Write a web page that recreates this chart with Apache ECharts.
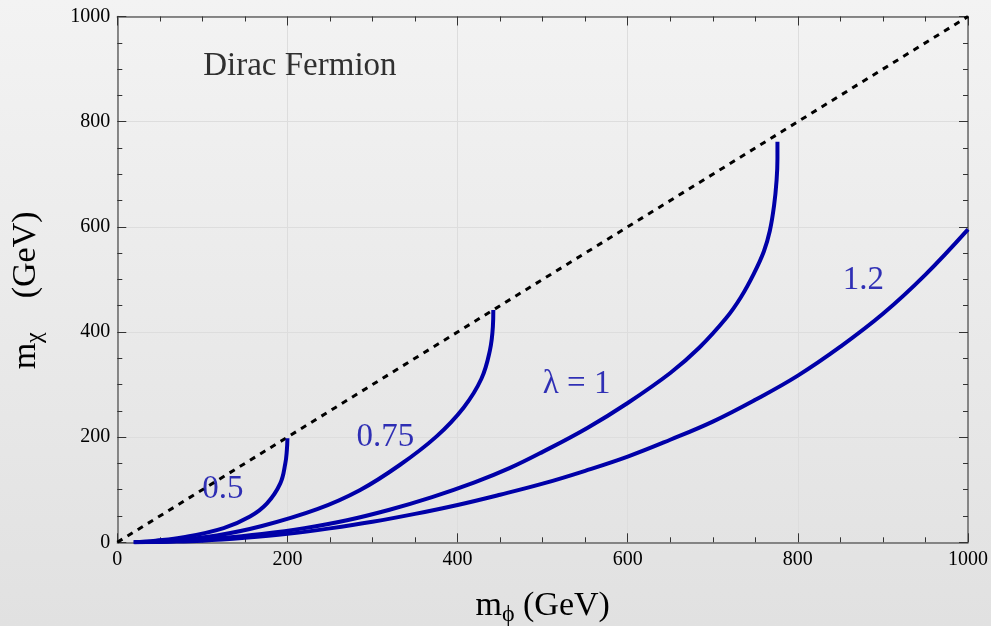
<!DOCTYPE html>
<html>
<head>
<meta charset="utf-8">
<script src="https://cdn.jsdelivr.net/npm/echarts@6/dist/echarts.min.js"></script>
<style>
html,body{margin:0;padding:0;background:#ebebeb;overflow:hidden;}
#c{width:991px;height:626px;}
</style>
</head>
<body>
<div id="c"></div>
<script>
// ---- data (m_phi, m_chi) in GeV ----
const diagonal = [[0,0],[1000,1000]];
const curve05 = [[19,0],[45,3],[78,9.5],[125,27],[156,49],[176,74],[191.6,112],[197.5,150],[199.3,175],[200,198]];
const curve075 = [[20,0],[70,4],[117,13],[170,31],[235,63],[285,99],[332,147],[375,201],[407,256],[428,311],[438,365],[441.5,410],[442,442]];
const curve1 = [[20,0],[70,2.5],[120,8],[170,16],[220,27],[270,42],[320,62],[370,86],[420,114],[461,141],[500,172],[552,217],[600,265],[650,322],[684,370],[716,427],[733,466],[748,510],[760,553],[767,592],[772,640],[775,689],[776,730],[776,762]];
const curve12 = [[20,0],[60,1],[100,3],[150,8.5],[200,16],[250,26.5],[300,39],[350,54],[400,71],[450,90.5],[500,111.5],[550,136],[600,163],[650,195],[700,229.5],[750,271],[800,317],[850,372],[900,434.5],[950,509],[1000,595]];
const curveLabels = ['0.5','0.75','λ = 1','1.2'];
const curveLabelPos = [[124,101],[315,200],[540,301],[877,499]];
const panelTitle = 'Dirac Fermion';
const panelTitlePos = [101,905];
const axisMin = 0, axisMax = 1000, axisStep = 200;

const SERIF = '"Liberation Serif","DejaVu Serif",serif';
const BLUE = '#0000a8';

function axisCommon(show){
  return {
    type:'value', min:axisMin, max:axisMax, interval:axisStep,
    axisLine:{show:true, onZero:false, lineStyle:{color:'#666', width:1.5}},
    axisTick:{show:true, inside:true, length:9, lineStyle:{color:'#333', width:1}},
    minorTick:{show:true, splitNumber:4, length:5, lineStyle:{color:'#333', width:1}},
    splitLine:{show:show, lineStyle:{color:'#dddddd', width:1}},
    axisLabel:{show:show, fontFamily:SERIF, fontSize:20, color:'#000', margin:7, formatter:v=>String(v)}
  };
}

const titleRich = {
  a:{fontFamily:SERIF, fontSize:34, color:'#000', lineHeight:40, verticalAlign:'middle'},
  s:{fontFamily:SERIF, fontSize:24, color:'#000', lineHeight:20, verticalAlign:'bottom'}
};

const chart = echarts.init(document.getElementById('c'), null, {renderer:'canvas'});
const option = {
  backgroundColor: new echarts.graphic.LinearGradient(0,0,0,1,[{offset:0,color:'#f3f3f3'},{offset:1,color:'#e1e1e1'}]),
  animation:false,
  grid:{left:117.3, right:23, top:16.5, bottom:83.7, containLabel:false, outerBoundsMode:'none'},
  xAxis:[
    Object.assign(axisCommon(true), {position:'bottom', name:'{a|m}{s|ϕ}{a| (GeV)}', nameLocation:'middle', nameGap:44,
      nameTextStyle:{rich:titleRich}}),
    Object.assign(axisCommon(false), {position:'top'})
  ],
  yAxis:[
    Object.assign(axisCommon(true), {position:'left', name:'{a|m}{s|χ}{a|    (GeV)}', nameLocation:'middle', nameGap:71, nameRotate:90,
      nameTextStyle:{rich:titleRich, padding:[0,22,0,0]}}),
    Object.assign(axisCommon(false), {position:'right'})
  ],
  series:[
    {type:'line', data:diagonal, symbol:'none', lineStyle:{color:'#000', width:3, type:[6,6]}, z:3},
    {type:'line', data:curve05, symbol:'none', smooth:0.4, lineStyle:{color:BLUE, width:4}},
    {type:'line', data:curve075, symbol:'none', smooth:0.4, lineStyle:{color:BLUE, width:4}},
    {type:'line', data:curve1, symbol:'none', smooth:0.4, lineStyle:{color:BLUE, width:4}},
    {type:'line', data:curve12, symbol:'none', smooth:0.4, lineStyle:{color:BLUE, width:4}},
    {type:'scatter', symbolSize:0, z:5, silent:true,
      data: curveLabels.map((t,i)=>({value:curveLabelPos[i], name:t})),
      label:{show:true, position:'inside', formatter:p=>p.name, fontFamily:SERIF, fontSize:33, color:BLUE}},
    {type:'scatter', symbolSize:0, z:5, silent:true,
      data:[{value:panelTitlePos, name:panelTitle}],
      label:{show:true, position:'inside', align:'left', formatter:p=>p.name, fontFamily:SERIF, fontSize:33, color:'#000'}}
  ]
};
chart.setOption(option);
</script>
</body>
</html>
